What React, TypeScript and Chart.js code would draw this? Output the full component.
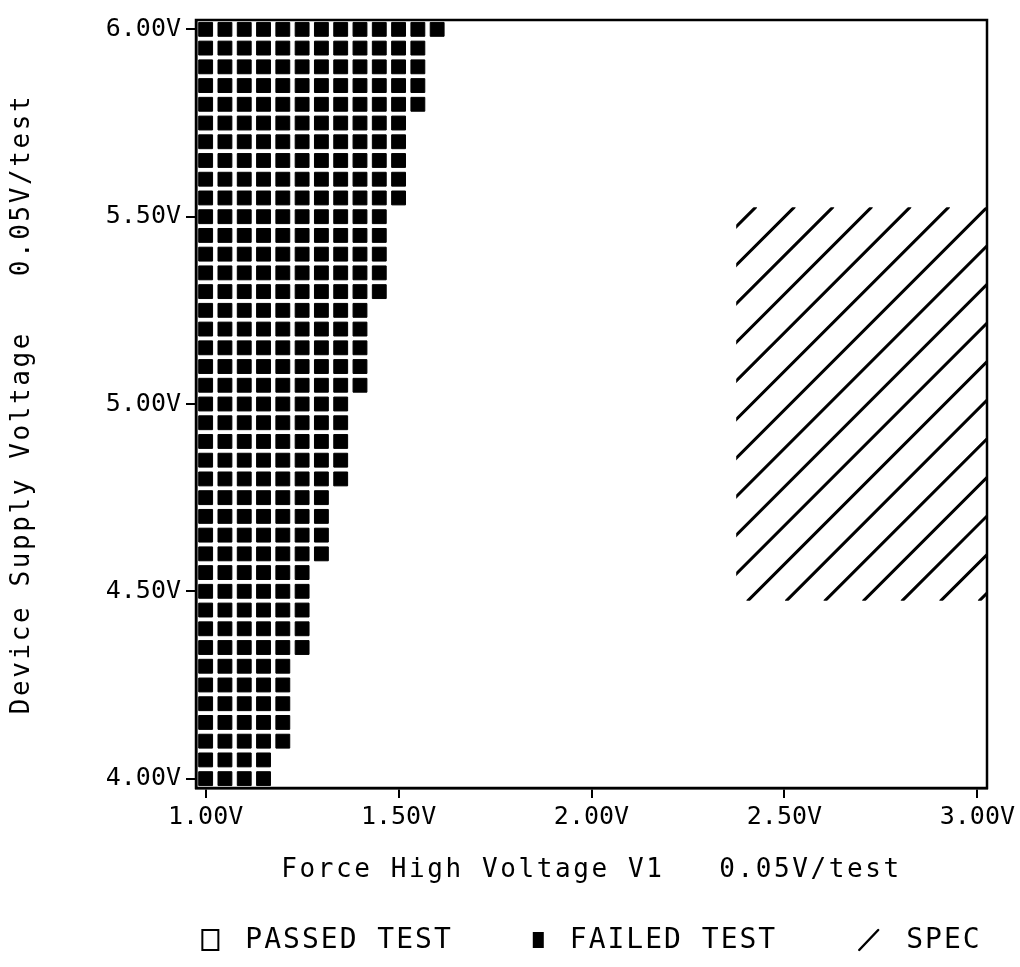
import { useEffect, useRef } from 'react';
import { Chart, registerables } from 'chart.js';

Chart.register(...registerables);

const FONT = '"DejaVu Sans Mono", "Liberation Mono", monospace';

// Force High Voltage V1 settings, one test every 0.05 V
const forceHighSteps = [
  1.0, 1.05, 1.1, 1.15, 1.2, 1.25, 1.3, 1.35, 1.4, 1.45,
  1.5, 1.55, 1.6, 1.65, 1.7, 1.75, 1.8, 1.85, 1.9, 1.95,
  2.0, 2.05, 2.1, 2.15, 2.2, 2.25, 2.3, 2.35, 2.4, 2.45,
  2.5, 2.55, 2.6, 2.65, 2.7, 2.75, 2.8, 2.85, 2.9, 2.95, 3.0,
];

// Device supply voltage rows, one test every 0.05 V (top row first)
const supplySteps = [
  6.0, 5.95, 5.9, 5.85, 5.8, 5.75, 5.7, 5.65, 5.6, 5.55,
  5.5, 5.45, 5.4, 5.35, 5.3, 5.25, 5.2, 5.15, 5.1, 5.05,
  5.0, 4.95, 4.9, 4.85, 4.8, 4.75, 4.7, 4.65, 4.6, 4.55,
  4.5, 4.45, 4.4, 4.35, 4.3, 4.25, 4.2, 4.15, 4.1, 4.05, 4.0,
];

// Highest Force High voltage that still fails, per supply row
const lastFailingForceHigh = [
  1.6,
  1.55, 1.55, 1.55, 1.55,
  1.5, 1.5, 1.5, 1.5, 1.5,
  1.45, 1.45, 1.45, 1.45, 1.45,
  1.4, 1.4, 1.4, 1.4, 1.4,
  1.35, 1.35, 1.35, 1.35, 1.35,
  1.3, 1.3, 1.3, 1.3,
  1.25, 1.25, 1.25, 1.25, 1.25,
  1.2, 1.2, 1.2, 1.2, 1.2,
  1.15, 1.15,
];

const xTickValues = [1.0, 1.5, 2.0, 2.5, 3.0];
const xTickLabels = ['1.00V', '1.50V', '2.00V', '2.50V', '3.00V'];
const yTickValues = [4.0, 4.5, 5.0, 5.5, 6.0];
const yTickLabels = ['4.00V', '4.50V', '5.00V', '5.50V', '6.00V'];

// Specification window (Force High V1, supply)
const specForceHigh = [2.4, 3.0];
const specSupply = [4.5, 5.5];

const testStep = 0.05;
const halfStep = testStep / 2;
const hatchPitch = 0.1;

const xTitle = 'Force High Voltage V1   0.05V/test';
const yTitle = 'Device Supply Voltage   0.05V/test';

const legendItems = [
  { label: 'PASSED TEST', marker: 'open' },
  { label: 'FAILED TEST', marker: 'filled' },
  { label: 'SPEC', marker: 'slash' },
];

const failedPoints = supplySteps.flatMap((supply, row) =>
  forceHighSteps
    .filter((fh) => fh <= lastFailingForceHigh[row] + 1e-9)
    .map((fh) => ({ x: fh, y: supply }))
);

// Axis titles are spaced out like a plotter font; tick labels (drawn later) are not.
const spacingPlugin = {
  id: 'letterSpacing',
  beforeDraw(chart: any) {
    chart.ctx.letterSpacing = '2.6px';
  },
  beforeDatasetsDraw(chart: any) {
    chart.ctx.letterSpacing = '0px';
  },
};

const specHatchPlugin = {
  id: 'specHatch',
  afterDatasetsDraw(chart: any) {
    const { ctx, scales } = chart;
    const xs = scales.x;
    const ys = scales.y;
    const left = xs.getPixelForValue(specForceHigh[0] - halfStep);
    const right = xs.getPixelForValue(specForceHigh[1] + halfStep);
    const top = ys.getPixelForValue(specSupply[1] + halfStep);
    const bottom = ys.getPixelForValue(specSupply[0] - halfStep);
    const pitch = xs.getPixelForValue(1 + hatchPitch) - xs.getPixelForValue(1);
    ctx.save();
    ctx.beginPath();
    ctx.rect(left, top, right - left, bottom - top);
    ctx.clip();
    ctx.strokeStyle = '#000';
    ctx.lineWidth = 3;
    ctx.lineCap = 'round';
    ctx.beginPath();
    for (let c = left + top + pitch / 2; c <= right + bottom + 1; c += pitch) {
      ctx.moveTo(c - bottom, bottom);
      ctx.lineTo(c - top, top);
    }
    ctx.stroke();
    ctx.restore();
  },
};

const framePlugin = {
  id: 'frame',
  afterDraw(chart: any) {
    const { ctx, chartArea } = chart;
    ctx.save();
    ctx.strokeStyle = '#000';
    ctx.lineWidth = 2.5;
    ctx.strokeRect(chartArea.left, chartArea.top, chartArea.right - chartArea.left, chartArea.bottom - chartArea.top);
    ctx.restore();
  },
};

const legendPlugin = {
  id: 'shmooLegend',
  afterDraw(chart: any) {
    const { ctx, chartArea } = chart;
    ctx.save();
    ctx.font = `28px ${FONT}`;
    ctx.letterSpacing = '2px';
    ctx.fillStyle = '#000';
    ctx.strokeStyle = '#000';
    ctx.textBaseline = 'middle';
    ctx.textAlign = 'left';
    const markerW: Record<string, number> = { open: 18, filled: 11, slash: 23 };
    const gapAfterMarker = 26;
    const gapBetween = 80;
    const widths = legendItems.map(
      (it) => markerW[it.marker] + gapAfterMarker + ctx.measureText(it.label).width
    );
    const total = widths.reduce((a, b) => a + b, 0) + gapBetween * (legendItems.length - 1);
    let x = (chartArea.left + chartArea.right) / 2 - total / 2;
    const cy = 940;
    legendItems.forEach((it, i) => {
      const w = markerW[it.marker];
      if (it.marker === 'open') {
        ctx.lineWidth = 2;
        ctx.strokeRect(x + 1, cy - 10, w - 2, 20);
      } else if (it.marker === 'filled') {
        ctx.fillRect(x, cy - 8, w, 16);
      } else {
        ctx.lineWidth = 2.4;
        ctx.lineCap = 'round';
        ctx.beginPath();
        ctx.moveTo(x + 2, cy + 10);
        ctx.lineTo(x + w - 2, cy - 10);
        ctx.stroke();
      }
      ctx.fillText(it.label, x + w + gapAfterMarker, cy + 1);
      x += widths[i] + gapBetween;
    });
    ctx.restore();
  },
};

export default function App() {
  const canvasRef = useRef<HTMLCanvasElement>(null);

  useEffect(() => {
    const canvas = canvasRef.current;
    if (!canvas) return;
    const tickFont = { family: FONT, size: 25 };
    const titleFont = { family: FONT, size: 26 };
    const chart = new Chart(canvas, {
      type: 'scatter',
      data: {
        datasets: [
          {
            label: 'FAILED TEST',
            data: failedPoints,
            pointStyle: 'rect',
            pointRadius: 9.8,
            pointHoverRadius: 9.8,
            backgroundColor: '#000',
            borderColor: '#000',
            borderWidth: 1,
          },
        ],
      },
      options: {
        animation: false,
        responsive: false,
        devicePixelRatio: 1,
        events: [],
        layout: { padding: { left: 0, top: 12, right: 33, bottom: 81 } },
        plugins: {
          legend: { display: false },
          tooltip: { enabled: false },
        },
        scales: {
          x: {
            type: 'linear',
            min: forceHighSteps[0] - halfStep,
            max: forceHighSteps[forceHighSteps.length - 1] + halfStep,
            afterBuildTicks: (s: any) => {
              s.ticks = xTickValues.map((v) => ({ value: v }));
            },
            afterFit: (s: any) => {
              s.height = 98;
            },
            ticks: {
              z: 1,
              autoSkip: false,
              maxRotation: 0,
              color: '#000',
              font: tickFont,
              padding: 4,
              callback: (_v: any, i: number) => xTickLabels[i],
            },
            grid: {
              display: true,
              drawOnChartArea: false,
              drawTicks: true,
              tickLength: 10,
              tickWidth: 2,
              lineWidth: 2,
              color: '#000',
            },
            border: { display: true, color: '#000', width: 2.5 },
            title: {
              display: true,
              text: xTitle,
              color: '#000',
              font: titleFont,
              padding: { top: 0, bottom: 0 },
            },
          },
          y: {
            type: 'linear',
            min: supplySteps[supplySteps.length - 1] - halfStep,
            max: supplySteps[0] + halfStep,
            afterBuildTicks: (s: any) => {
              s.ticks = yTickValues.map((v) => ({ value: v }));
            },
            afterFit: (s: any) => {
              s.width = 196;
            },
            ticks: {
              z: 1,
              autoSkip: false,
              color: '#000',
              font: tickFont,
              padding: 5,
              callback: (_v: any, i: number) => yTickLabels[i],
            },
            grid: {
              display: true,
              drawOnChartArea: false,
              drawTicks: true,
              tickLength: 10,
              tickWidth: 2,
              lineWidth: 2,
              color: '#000',
            },
            border: { display: true, color: '#000', width: 2.5 },
            title: {
              display: true,
              text: yTitle,
              color: '#000',
              font: titleFont,
              padding: { top: 7, bottom: 0 },
            },
          },
        },
      },
      plugins: [spacingPlugin, specHatchPlugin, framePlugin, legendPlugin],
    } as any);
    return () => chart.destroy();
  }, []);

  return (
    <div style={{ position: 'absolute', left: 0, top: 0, width: 1020, height: 967, background: '#fff' }}>
      <canvas ref={canvasRef} width={1020} height={967} style={{ display: 'block', width: 1020, height: 967 }} />
    </div>
  );
}
